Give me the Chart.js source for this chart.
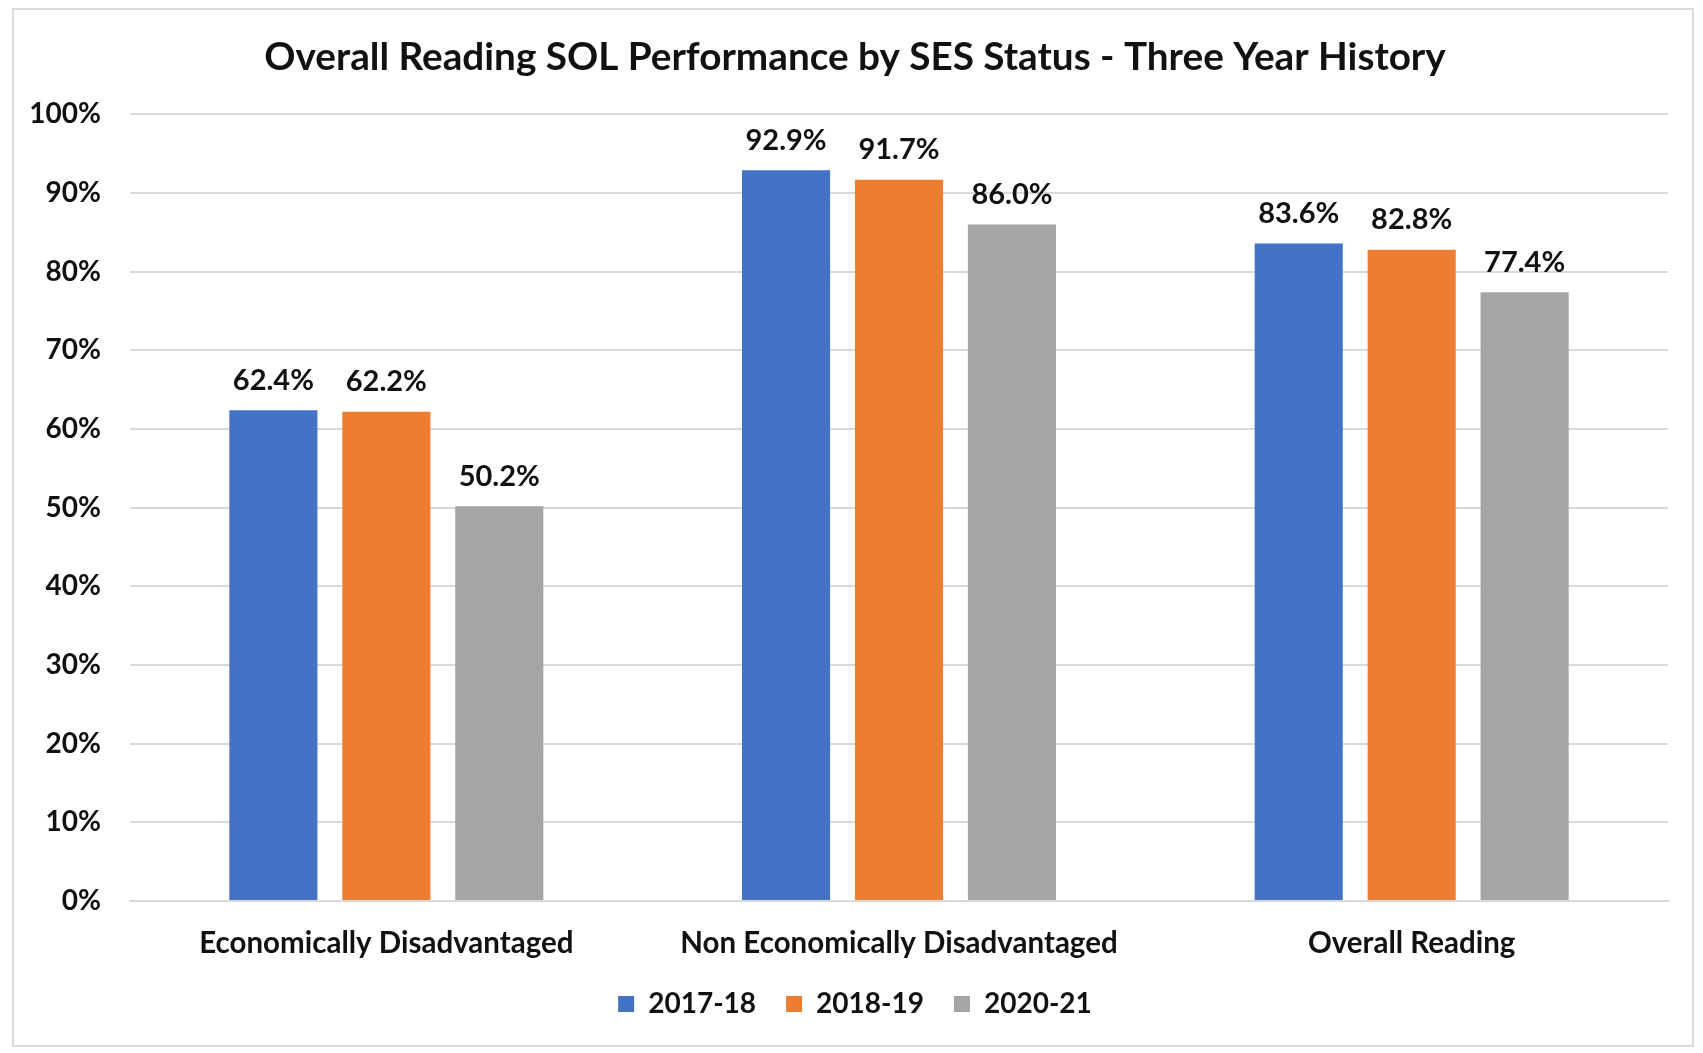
<!DOCTYPE html>
<html>
<head>
<meta charset="utf-8">
<script src="https://cdn.jsdelivr.net/npm/chart.js@4.4.0/dist/chart.umd.min.js"></script>
<style>
  html, body { margin: 0; padding: 0; background: #fff; }
  #wrap {
    position: absolute; left: 12px; top: 8px;
    width: 1678px; height: 1035px;
    border: 2px solid #d9d9d9;
  }
</style>
</head>
<body>
<div id="wrap"><canvas id="myChart" width="1678" height="1035"></canvas></div>
<script>
const categories = ['Economically Disadvantaged', 'Non Economically Disadvantaged', 'Overall Reading'];
const years = ['2017-18', '2018-19', '2020-21'];
const values2017 = [62.4, 92.9, 83.6];
const values2018 = [62.2, 91.7, 82.8];
const values2020 = [50.2, 86.0, 77.4];
const yTicks = [0, 10, 20, 30, 40, 50, 60, 70, 80, 90, 100];

const fontFamily = 'Lato, "Open Sans", sans-serif';
const textColor = '#111111';

// value labels above each bar
const valueLabels = {
    id: 'valueLabels',
    afterDatasetsDraw(chart) {
        const ctx = chart.ctx;
        ctx.save();
        ctx.font = 'bold 29px ' + fontFamily;
        ctx.fillStyle = textColor;
        ctx.textAlign = 'center';
        ctx.textBaseline = 'middle';
        chart.data.datasets.forEach((ds, i) => {
            chart.getDatasetMeta(i).data.forEach((bar, j) => {
                ctx.fillText(ds.data[j].toFixed(1) + '%', bar.x, bar.y - 30);
            });
        });
        ctx.restore();
    }
};

const ctx = document.getElementById('myChart').getContext('2d');
const myChart = new Chart(ctx, {
    type: 'bar',
    data: {
        labels: categories,
        datasets: [
            { label: years[0], data: values2017, backgroundColor: '#4472C4' },
            { label: years[1], data: values2018, backgroundColor: '#ED7D31' },
            { label: years[2], data: values2020, backgroundColor: '#A5A5A5' }
        ]
    },
    options: {
        responsive: false,
        animation: false,
        layout: { padding: { left: 14, right: 10, top: 0, bottom: 17 } },
        datasets: {
            bar: { categoryPercentage: 0.661, barPercentage: 0.78 }
        },
        scales: {
            x: {
                afterFit(axis) { axis.height = 59; },
                grid: { display: false, drawTicks: false },
                border: { display: true, color: '#d9d9d9', width: 2 },
                ticks: {
                    color: textColor,
                    padding: 25,
                    maxRotation: 0,
                    font: { family: fontFamily, size: 29.5, weight: 'bold' }
                }
            },
            y: {
                min: 0,
                max: 100,
                afterBuildTicks(axis) {
                    axis.ticks = yTicks.map(v => ({ value: v }));
                },
                afterFit(axis) { axis.width = 102; },
                grid: { color: '#d9d9d9', lineWidth: 2, drawTicks: false },
                border: { display: false },
                ticks: {
                    color: textColor,
                    padding: 29,
                    font: { family: fontFamily, size: 28, weight: 'bold' },
                    callback: v => v + '%'
                }
            },
            // empty right gutter so the plot ends where the original does
            gutter: {
                position: 'right',
                grid: { display: false },
                border: { display: false },
                ticks: { display: false },
                afterFit(axis) { axis.width = 14; }
            }
        },
        plugins: {
            title: {
                display: true,
                text: 'Overall Reading SOL Performance by SES Status - Three Year History',
                color: textColor,
                font: { family: fontFamily, size: 38.7, weight: 'bold' },
                padding: { top: 24, bottom: 34 }
            },
            legend: {
                position: 'bottom',
                labels: {
                    color: textColor,
                    boxWidth: 16,
                    boxHeight: 16,
                    padding: 30,
                    font: { family: fontFamily, size: 28, weight: 'bold' }
                }
            },
            tooltip: { enabled: false }
        }
    },
    plugins: [valueLabels]
});
</script>
</body>
</html>
